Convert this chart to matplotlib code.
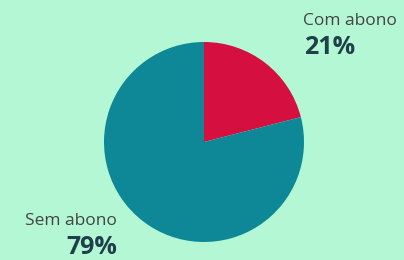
import matplotlib
matplotlib.use("Agg")
import matplotlib.pyplot as plt

# dados
categorias = ["Com abono", "Sem abono"]
valores = [21, 79]
cores = ["#d50f3f", "#0e8896"]
fundo = "#b3f7d4"

plt.rcParams['font.family'] = ['Open Sans', 'DejaVu Sans']

fig = plt.figure(figsize=(4.04, 2.60), dpi=100, facecolor=fundo)
ax = fig.add_axes([104/404, 18/260, 200/404, 200/260])
ax.set_facecolor(fundo)

ax.pie(valores, colors=cores, startangle=90, counterclock=False,
       radius=1, wedgeprops=dict(linewidth=0))
ax.set_xlim(-1, 1)
ax.set_ylim(-1, 1)
ax.set_aspect('equal')
ax.axis('off')

# rótulos
fig.text(303/404, 1 - 25/260, categorias[0], ha='left', va='baseline',
         fontsize=12.5, color='#444444')
fig.text(304/404, 1 - 54/260, "%d%%" % valores[0], ha='left', va='baseline',
         fontsize=18, fontweight='bold', color='#1f3f4a')
fig.text(117/404, 1 - 225/260, categorias[1], ha='right', va='baseline',
         fontsize=12.5, color='#444444')
fig.text(117/404, 1 - 254/260, "%d%%" % valores[1], ha='right', va='baseline',
         fontsize=18, fontweight='bold', color='#1f3f4a')

fig.savefig("out.png", dpi=100, facecolor=fundo)
